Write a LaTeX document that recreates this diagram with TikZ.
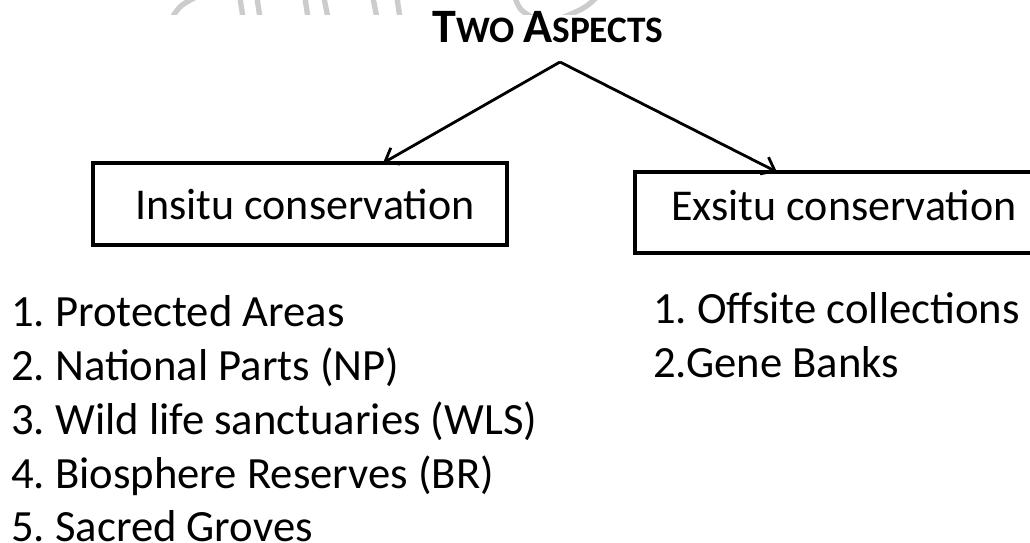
\documentclass[tikz,border=0pt]{standalone}
\usepackage{fontspec}
\setmainfont{Carlito}
\usetikzlibrary{arrows.meta}
\frenchspacing
\tikzset{
  x=0.75pt, y=-0.75pt,
  boxst/.style={draw=black, line width=2.4pt, rectangle, inner sep=0pt},
  arr/.style={line width=2.1pt, -{Straight Barb[length=9pt,width=14pt,line width=2.1pt]}},
  wm/.style={draw=black!20, line width=4pt},
  txt/.style={font=\fontsize{33}{33}\selectfont, inner sep=0pt, anchor=base west},
  ltxt/.style={font=\fontsize{33.5}{34}\selectfont, inner sep=0pt, anchor=base west},
}
\begin{document}
\begin{tikzpicture}
\clip (0,0) rectangle (1030,542);
\fill[white] (0,0) rectangle (1030,542);
% watermark remnants
\begin{scope}
\clip (0,0) rectangle (1030,15);
\draw[wm] (172,18) .. controls (180,5) .. (206,-8);
\draw[wm] (243,18) -- (240,-2);
\draw[wm] (260,18) -- (257,-2);
\draw[wm] (308,18) -- (305,-2);
\draw[wm] (328,18) -- (324,-2);
\draw[wm] (377,18) -- (373,-2);
\draw[wm] (400,18) -- (397,-2);
\draw[wm] (515,-2) .. controls (520,10) .. (533,18);
\draw[wm] (596,-2) .. controls (585,8) .. (562,18);
\end{scope}
% title
\node[inner sep=0pt, anchor=base, font=\bfseries] (title) at (548,43)
  {\fontsize{36}{36}\selectfont T\fontsize{28}{28}\selectfont WO \fontsize{36}{36}\selectfont A\fontsize{28}{28}\selectfont SPECTS};
\coordinate (apex) at (560,62);
% boxes
\node[boxst, minimum width={414*0.75pt}, minimum height={82*0.75pt}] (insitu) at (300,204) {};
\node[txt, anchor=base] (insitutxt) at (305,219) {Insitu conservation};
\node[boxst, minimum width={420*0.75pt}, minimum height={81*0.75pt}] (exsitu) at (845,212.5) {};
\node[txt, anchor=base] (exsitutxt) at (844,220) {Exsitu conservation};
\coordinate (lt) at (383,163);
\coordinate (rt) at (777,172);
\draw[arr] (apex) -- (lt);
\draw[arr] (apex) -- (rt);
% lists
\node[ltxt] (l1) at (11,326) {1. Protected Areas};
\node[ltxt] (l2) at (11,380) {2. National Parts (NP)};
\node[ltxt] (l3) at (11,434) {3. Wild life sanctuaries (WLS)};
\node[ltxt] (l4) at (11,488) {4. Biosphere Reserves (BR)};
\node[ltxt] (l5) at (11,541) {5. Sacred Groves};
\node[ltxt] (r1) at (653,323) {1. Offsite collections};
\node[ltxt] (r2) at (653,377) {2.Gene Banks};
\end{tikzpicture}
\end{document}
